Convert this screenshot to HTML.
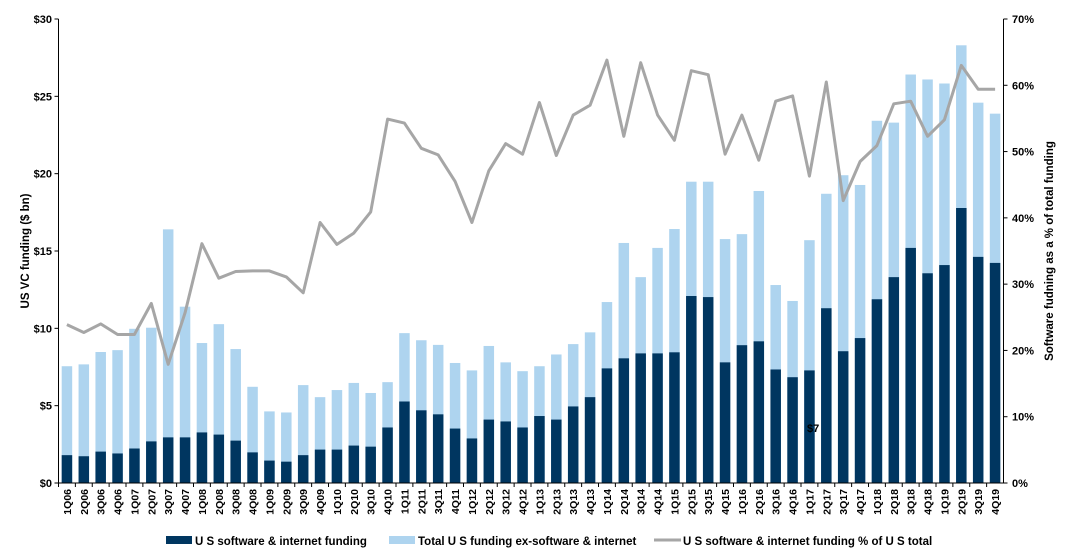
<!DOCTYPE html>
<html><head><meta charset="utf-8"><style>
body{margin:0;background:#fff;}
svg{display:block;font-family:"Liberation Sans",Arial,sans-serif;font-weight:bold;}
</style></head><body>
<svg id="chart" width="1074" height="557" viewBox="0 0 1074 557" xmlns="http://www.w3.org/2000/svg">
<g id="bars"></g>
<g id="line"></g>
<g id="axes"></g>
<text transform="translate(29,251) rotate(-90)" text-anchor="middle" font-size="11.5" fill="#000">US VC funding ($ bn)</text>
<text transform="translate(1053,251) rotate(-90)" text-anchor="middle" font-size="11.5" fill="#000">Software  fudning as a % of total funding</text>
<text x="807" y="432" font-size="11" fill="#000">$7</text>
<g>
<rect x="166" y="536" width="26" height="8" fill="#003660"/>
<text x="195" y="545" font-size="11.5">U S software &amp; internet funding</text>
<rect x="389" y="536" width="26" height="8" fill="#aed4ef"/>
<text x="418" y="545" font-size="11.5">Total U S funding ex-software &amp; internet</text>
<line x1="654" y1="540" x2="681" y2="540" stroke="#a6a6a6" stroke-width="3"/>
<text x="683" y="545" font-size="11.5">U S software &amp; internet funding % of U S total</text>
</g>
</svg>
<script>
const categories=["1Q06","2Q06","3Q06","4Q06","1Q07","2Q07","3Q07","4Q07","1Q08","2Q08","3Q08","4Q08","1Q09","2Q09","3Q09","4Q09","1Q10","2Q10","3Q10","4Q10","1Q11","2Q11","3Q11","4Q11","1Q12","2Q12","3Q12","4Q12","1Q13","2Q13","3Q13","4Q13","1Q14","2Q14","3Q14","4Q14","1Q15","2Q15","3Q15","4Q15","1Q16","2Q16","3Q16","4Q16","1Q17","2Q17","3Q17","4Q17","1Q18","2Q18","3Q18","4Q18","1Q19","2Q19","3Q19","4Q19"];
const totalFunding=[7.55,7.67,8.47,8.59,9.97,10.04,16.4,11.4,9.05,10.27,8.66,6.22,4.63,4.56,6.33,5.55,6.01,6.47,5.82,6.52,9.69,9.23,8.93,7.76,7.28,8.86,7.8,7.23,7.55,8.31,8.98,9.74,11.7,15.52,13.31,15.2,16.42,19.48,19.48,15.77,16.09,18.88,12.8,11.77,15.7,18.7,19.9,19.27,23.42,23.3,26.41,26.09,25.83,28.3,24.59,23.88];
const softwareFunding=[1.8,1.73,2.03,1.91,2.23,2.69,2.95,2.95,3.27,3.13,2.74,1.98,1.45,1.38,1.8,2.16,2.16,2.42,2.35,3.59,5.27,4.7,4.44,3.52,2.88,4.1,3.98,3.59,4.33,4.1,4.95,5.55,7.41,8.06,8.38,8.38,8.45,12.09,12.02,7.8,8.91,9.16,7.34,6.84,7.28,11.3,8.52,9.37,11.88,13.31,15.2,13.56,14.09,17.78,14.62,14.23];
const pctSoftware=[23.9,22.7,24.0,22.4,22.4,27.1,17.9,25.7,36.1,30.9,31.9,32.0,32.0,31.1,28.7,39.3,36.0,37.7,40.9,54.9,54.3,50.5,49.5,45.5,39.3,47.1,51.2,49.6,57.4,49.4,55.5,57.0,63.8,52.3,63.4,55.5,51.7,62.2,61.6,49.6,55.5,48.7,57.6,58.4,46.3,60.5,42.6,48.5,50.9,57.2,57.6,52.3,54.8,63.0,59.4,59.4];
const leftTicks=[0,5,10,15,20,25,30];
const rightTicks=[0,10,20,30,40,50,60,70];

const NS="http://www.w3.org/2000/svg";
const X0=58.5,X1=1003.5,Y0=483,Y1=19;
const band=(X1-X0)/categories.length;
const xc=i=>X0+band*(i+0.5);
const yL=v=>Y0-(v/30)*(Y0-Y1);
const yR=v=>Y0-(v/70)*(Y0-Y1);
function mk(tag,attrs,parent){const e=document.createElementNS(NS,tag);for(const k in attrs)e.setAttribute(k,attrs[k]);parent.appendChild(e);return e;}
const gb=document.getElementById('bars'),gl=document.getElementById('line'),ga=document.getElementById('axes');
const bw=10.5;
categories.forEach((c,i)=>{
  const t=mk('rect',{x:xc(i)-bw/2,y:yL(totalFunding[i]),width:bw,height:Y0-yL(totalFunding[i]),fill:'#aed4ef'},gb);
  
  
  const s=mk('rect',{x:xc(i)-bw/2,y:yL(softwareFunding[i]),width:bw,height:Y0-yL(softwareFunding[i]),fill:'#003660'},gb);
  
  
  const lb=mk('text',{transform:`translate(${xc(i)+4},${489}) rotate(-90)`,'text-anchor':'end','font-size':'10.5',fill:'#000'},ga);
  lb.textContent=c;
  
  
  const tk=mk('line',{x1:X0+band*i,y1:Y0,x2:X0+band*i,y2:Y0+4,stroke:'#000','stroke-width':1},ga);
  
  
});
const pts=pctSoftware.map((v,i)=>xc(i).toFixed(1)+','+yR(v).toFixed(1)).join(' ');
const pl=mk('polyline',{points:pts,fill:'none',stroke:'#a6a6a6','stroke-width':3,'stroke-linejoin':'round'},gl);


const la=mk('line',{x1:X0,y1:Y1,x2:X0,y2:Y0,stroke:'#000','stroke-width':1},ga);


const ra=mk('line',{x1:X1,y1:Y1,x2:X1,y2:Y0,stroke:'#000','stroke-width':1},ga);


const xa=mk('line',{x1:X0,y1:Y0,x2:X1,y2:Y0,stroke:'#000','stroke-width':1},ga);


leftTicks.forEach(v=>{
  const t=mk('text',{x:52,y:yL(v)+4,'text-anchor':'end','font-size':'11',fill:'#000'},ga);
  t.textContent='$'+v;
  
  
  const l=mk('line',{x1:X0-4,y1:yL(v),x2:X0,y2:yL(v),stroke:'#000'},ga);
  
  
});
rightTicks.forEach(v=>{
  const t=mk('text',{x:1012,y:yR(v)+4,'font-size':'11',fill:'#000'},ga);
  t.textContent=v+'%';
  
  
  const l=mk('line',{x1:X1,y1:yR(v),x2:X1+4,y2:yR(v),stroke:'#000'},ga);
  
  
});
</script>
</body></html>
